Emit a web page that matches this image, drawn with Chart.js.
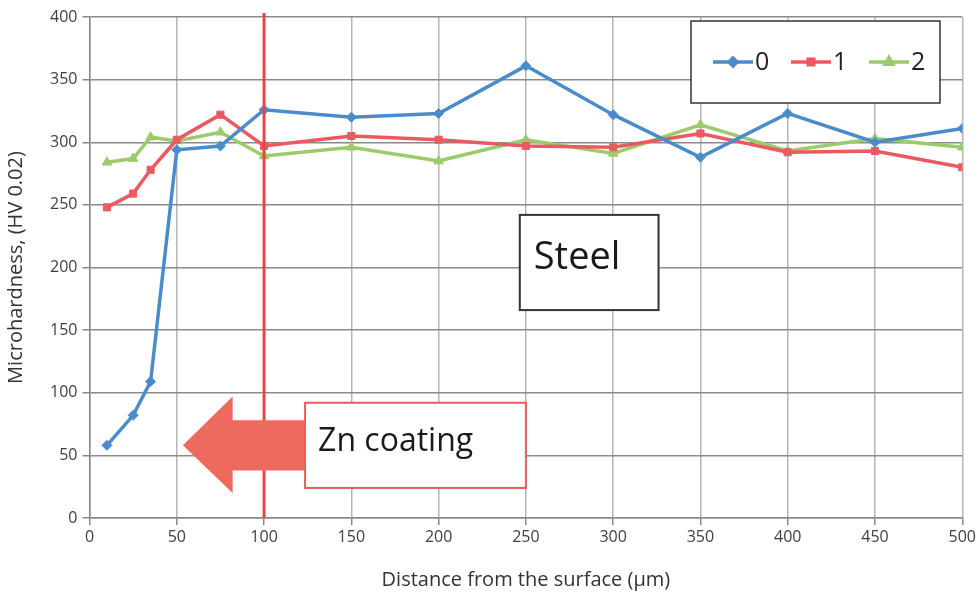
<!DOCTYPE html>
<html>
<head>
<meta charset="utf-8">
<script src="https://cdn.jsdelivr.net/npm/chart.js@4"></script>
<style>
  html, body { margin: 0; padding: 0; background: #fff; }
  #wrap { width: 979px; height: 596px; }
</style>
</head>
<body>
<div id="wrap"><canvas id="chart"></canvas></div>
<script>
// depth (µm) and hardness for each sample
const depths = [10, 25, 35, 50, 75, 100, 150, 200, 250, 300, 350, 400, 450, 500];
const sample0 = [58, 82, 109, 294, 297, 326, 320, 323, 361, 322, 288, 323, 300, 311];
const sample1 = [248, 259, 278, 302, 322, 297, 305, 302, 297, 296, 307, 292, 293, 280];
const sample2 = [284, 287, 304, 301, 308, 289, 296, 285, 302, 291, 314, 293, 303, 296];
const seriesNames = ['0', '1', '2'];

const blue = '#4a8ccb';
const red = '#ea5a62';
const green = '#9bcb6a';
const font = "'Open Sans', sans-serif";

function toPoints(vals) {
    return depths.map((d, i) => ({ x: d, y: vals[i] }));
}

function makeSet(label, vals, color, style, radius) {
    return {
        label: label,
        data: toPoints(vals),
        borderColor: color,
        backgroundColor: color,
        borderWidth: 3.5,
        pointStyle: style,
        pointRadius: radius,
        pointBorderWidth: 1,
        tension: 0
    };
}

// annotations drawn in data space
const annotations = {
    afterDatasetsDraw(chart) {
        const ctx = chart.ctx;
        const xs = chart.scales.x, ys = chart.scales.y;
        const px = v => xs.getPixelForValue(v);
        const py = v => ys.getPixelForValue(v);
        ctx.save();

        // boundary line at 100 µm
        ctx.strokeStyle = '#ec4349';
        ctx.lineWidth = 3;
        ctx.beginPath();
        ctx.moveTo(px(100), chart.chartArea.top - 4);
        ctx.lineTo(px(100), chart.chartArea.bottom);
        ctx.stroke();

        // arrow pointing to the coating
        ctx.fillStyle = '#ee6a5f';
        ctx.beginPath();
        ctx.moveTo(px(53.5), py(58));
        ctx.lineTo(px(82), py(97));
        ctx.lineTo(px(82), py(78));
        ctx.lineTo(px(124), py(78));
        ctx.lineTo(px(124), py(38));
        ctx.lineTo(px(82), py(38));
        ctx.lineTo(px(82), py(20));
        ctx.closePath();
        ctx.fill();

        // Zn coating box
        ctx.fillStyle = '#fff';
        ctx.strokeStyle = '#ec5b5e';
        ctx.lineWidth = 2;
        let x1 = px(123.5), x2 = px(250), y1 = py(92), y2 = py(24);
        ctx.fillRect(x1, y1, x2 - x1, y2 - y1);
        ctx.strokeRect(x1, y1, x2 - x1, y2 - y1);
        ctx.fillStyle = '#1a1a1a';
        ctx.font = "32px " + font;
        ctx.textBaseline = 'middle';
        ctx.textAlign = 'left';
        ctx.fillText('Zn coating', x1 + 13, (y1 + y2) / 2 - 3);

        // Steel box
        x1 = px(246.5); x2 = px(326); y1 = py(242); y2 = py(166);
        ctx.fillStyle = '#fff';
        ctx.strokeStyle = '#333';
        ctx.lineWidth = 2;
        ctx.fillRect(x1, y1, x2 - x1, y2 - y1);
        ctx.strokeRect(x1, y1, x2 - x1, y2 - y1);
        ctx.fillStyle = '#1a1a1a';
        ctx.font = "38px " + font;
        ctx.fillText('Steel', x1 + 14, (y1 + y2) / 2 - 4);

        // legend box
        const lx = 691, ly = 21, lw = 249, lh = 82;
        ctx.fillStyle = '#fff';
        ctx.strokeStyle = '#333';
        ctx.lineWidth = 1.5;
        ctx.fillRect(lx, ly, lw, lh);
        ctx.strokeRect(lx, ly, lw, lh);
        const sets = chart.data.datasets;
        const starts = [713, 791, 869];
        ctx.font = "25px " + font;
        sets.forEach((ds, i) => {
            const sx = starts[i], cy = 62;
            ctx.strokeStyle = ds.borderColor;
            ctx.lineWidth = 3.5;
            ctx.beginPath();
            ctx.moveTo(sx, cy);
            ctx.lineTo(sx + 40, cy);
            ctx.stroke();
            Chart.helpers.drawPoint(ctx, {
                pointStyle: ds.pointStyle, radius: ds.pointRadius - 1, borderWidth: 1
            }, sx + 20, cy);
            ctx.fillStyle = ds.borderColor;
            ctx.fill();
            ctx.fillStyle = '#222';
            ctx.fillText(seriesNames[i], sx + 42, cy + 1);
        });
        ctx.restore();
    }
};

new Chart(document.getElementById('chart'), {
    type: 'line',
    data: {
        datasets: [
            makeSet(seriesNames[0], sample0, blue, 'rectRot', 5),
            makeSet(seriesNames[1], sample1, red, 'rect', 5),
            makeSet(seriesNames[2], sample2, green, 'triangle', 5.5)
        ]
    },
    options: {
        responsive: true,
        maintainAspectRatio: false,
        animation: false,
        layout: { padding: { top: 17, right: 16, left: 0, bottom: 0 } },
        plugins: {
            legend: { display: false },
            tooltip: { enabled: false }
        },
        scales: {
            x: {
                type: 'linear',
                min: 0,
                max: 500,
                ticks: { stepSize: 50, color: '#404040', font: { family: font, size: 16 }, padding: 3 },
                grid: { color: '#b5b5b5', lineWidth: 1.5, tickLength: 7, tickColor: '#888' },
                border: { color: '#888', width: 1.5 },
                title: {
                    display: true,
                    text: 'Distance from the surface (µm)',
                    color: '#333',
                    font: { family: font, size: 20 },
                    padding: { top: 10 }
                },
                afterFit(scale) { scale.height = 78; }
            },
            y: {
                min: 0,
                max: 400,
                ticks: { stepSize: 50, color: '#404040', font: { family: font, size: 16 }, padding: 5 },
                grid: { color: '#8a8a8a', lineWidth: 1.5, tickLength: 7, tickColor: '#888' },
                border: { color: '#888', width: 1.5 },
                title: {
                    display: true,
                    text: 'Microhardness, (HV 0.02)',
                    color: '#333',
                    font: { family: font, size: 20 },
                    padding: { bottom: 4 }
                },
                afterFit(scale) { scale.width = 89.5; }
            }
        }
    },
    plugins: [annotations]
});
</script>
</body>
</html>
